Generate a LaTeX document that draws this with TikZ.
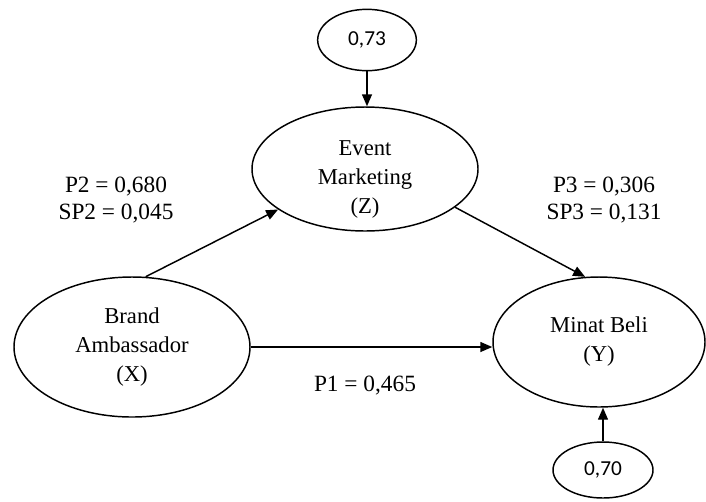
\documentclass[tikz,border=0pt]{standalone}
\usepackage{fontspec}
\setmainfont{Liberation Serif}
\newfontfamily\errfont{Carlito}
\usepackage{tikz}
\usetikzlibrary{arrows.meta,positioning,shapes.geometric}
\tikzset{
  latent/.style={draw, ellipse, line width=1.1pt, inner sep=0pt, align=center,
                 font=\fontsize{17}{21.75}\selectfont},
  vartext/.style={align=center, inner sep=0pt, font=\fontsize{17}{21.75}\selectfont},
  resid/.style={draw, ellipse, line width=1.1pt, inner sep=0pt, minimum width=74pt,
                minimum height=46pt, font=\errfont\fontsize{16}{19.5}\selectfont},
  coef/.style={align=center, font=\fontsize{17.5}{20}\selectfont},
  flow/.style={-{Triangle[length=9pt,width=7.5pt]}, line width=1.1pt}
}
\begin{document}
\begin{tikzpicture}[x=0.75pt,y=-0.75pt]
    \useasboundingbox (0,0) rectangle (706,501);
    % latent variables
    \node[latent,minimum width=169.5pt,minimum height=93pt] (event) at (365,169) {};
    \node[vartext] (eventtxt) at ([yshift=-7.5pt]event.center)
      {Event\\Marketing\\(Z)};
    \node[latent,minimum width=177pt,minimum height=105pt] (brand) at (132,347)
      {Brand\\Ambassador\\(X)};
    \node[latent,minimum width=159pt,minimum height=97.5pt] (minat) at (599,342)
      {Minat Beli\\(Y)};
    % residuals
    \node[resid] (errZ) at (367,40) {0,73};
    \node[resid,minimum width=75pt,minimum height=42pt] (errY) at (603,470) {0,70};
    % paths
    \draw[flow] (errZ.south) -- (errZ.south |- event.north);
    \draw[flow] (errY.north) -- (errY.north |- minat.south);
    \draw[flow] (brand.79) -- (event.205);
    \draw[flow] (event.337) -- (minat.102);
    \draw[flow] (brand.east) -- (brand.east -| minat.west);
    % coefficients
    \node[coef] (p2) at (116,200) {P2 = 0,680\\SP2 = 0,045};
    \node[coef] (p3) at (604,200) {P3 = 0,306\\SP3 = 0,131};
    \node[coef] (p1) at (365,386) {P1 = 0,465};
\end{tikzpicture}
\end{document}
